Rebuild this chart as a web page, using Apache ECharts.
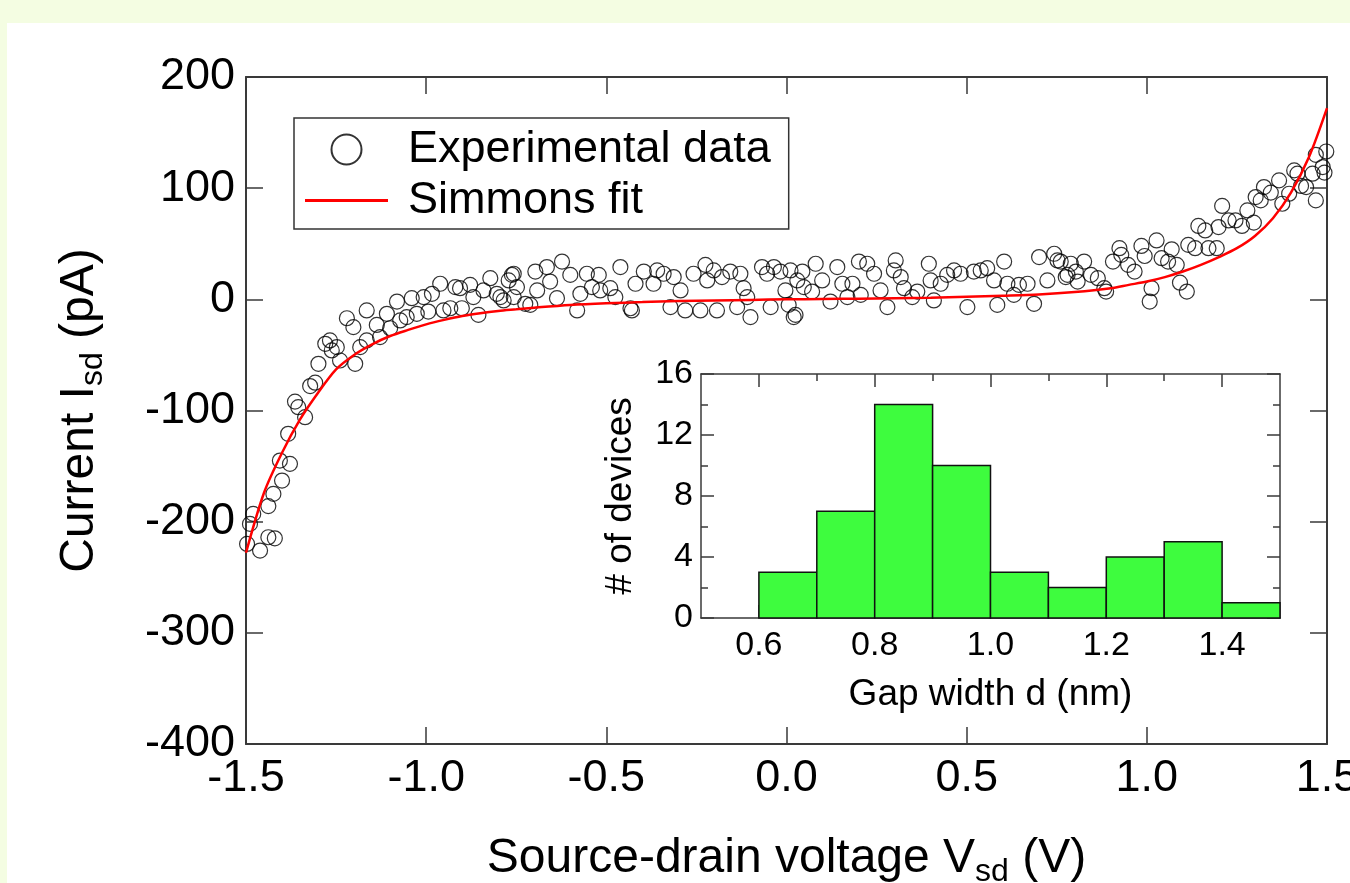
<!DOCTYPE html>
<html><head><meta charset="utf-8">
<script src="https://cdn.jsdelivr.net/npm/echarts@6/dist/echarts.min.js"></script>
<style>
html,body{margin:0;padding:0;background:#f4fde2;width:1350px;height:883px;overflow:hidden}
#c{position:absolute;left:7px;top:23px;width:1343px;height:860px;background:#fff}
</style></head><body><div id="c"></div>
<script>
// ---- data ----
const experimentalData = [
[-1.497,-220],[-1.461,-226],[-1.48,-193],[-1.489,-202],[-1.438,-214],[-1.42,-215],[-1.438,-186],[-1.424,-175],[-1.40,-163],[-1.406,-145],
[-1.378,-148],[-1.383,-121],[-1.336,-106],[-1.364,-92],[-1.355,-97],[-1.322,-78],[-1.308,-75],[-1.299,-58],[-1.28,-40],[-1.267,-37],
[-1.248,-43],[-1.262,-46],[-1.239,-55],[-1.22,-17],[-1.202,-25],[-1.197,-58],[-1.183,-43],[-1.165,-10],[-1.165,-37],[-1.137,-23],
[-1.128,-34],[-1.109,-13],[-1.10,-26],[-1.081,-2],[-1.072,-19],[-1.054,-16],[-1.04,1],[-1.026,-13],[-1.007,2],[-0.994,-11],
[-0.984,5],[-0.961,14],[-0.952,-10],[-0.933,-8],[-0.919,11],[-0.906,10],[-0.901,-8],[-0.878,13],[-0.869,2],[-0.855,-14],
[-0.841,8],[-0.822,19],[-0.804,5],[-0.785,-1],[-0.771,17],[-0.762,22],[-0.757,2],
[-0.794,2],[-0.757,23],[-0.748,11],[-0.725,-4],[-0.711,-5],[-0.697,25],[-0.692,8],[-0.665,29],[-0.656,16],[-0.623,34],
[-0.637,1],[-0.60,22],[-0.581,-10],[-0.572,5],[-0.554,23],[-0.54,11],[-0.521,22],[-0.517,8],[-0.489,10],[-0.475,2],
[-0.461,29],[-0.433,-8],[-0.429,-10],[-0.419,14],[-0.396,25],[-0.369,14],[-0.359,26],[-0.341,23],[-0.322,-7],[-0.313,20],
[-0.294,8],[-0.281,-10],[-0.258,23],[-0.239,-10],[-0.225,31],[-0.22,17],[-0.202,26],[-0.193,-10],[-0.179,20],[-0.156,25],
[-0.137,-7],[-0.128,23],[-0.119,10],[-0.109,2],[-0.10,-16],[-0.068,29],[-0.054,23],[-0.044,-7],[-0.035,29],[-0.017,25],
[-0.003,8],[0.011,26],[0.02,-16],[0.03,17],
[0.006,-5],[0.025,-14],[0.044,25],[0.048,11],[0.071,7],[0.081,32],[0.099,17],[0.122,-2],[0.141,29],[0.155,14],
[0.169,2],[0.183,14],[0.201,34],[0.206,4],[0.224,32],[0.243,23],[0.261,8],[0.28,-7],[0.303,35],[0.298,26],
[0.317,20],[0.326,10],[0.349,2],[0.363,7],[0.395,32],[0.40,17],[0.409,-1],[0.428,14],[0.446,22],[0.465,26],
[0.483,23],[0.502,-7],[0.52,25],[0.539,26],[0.557,28],[0.576,17],[0.585,-5],[0.604,34],[0.613,14],[0.631,4],
[0.645,13],[0.669,14],[0.687,-4],[0.701,38],[0.724,17],[0.743,41],[0.752,35],[0.775,20],[0.789,32],[0.803,25],
[0.761,34],[0.78,22],[0.808,16],[0.826,34],[0.845,22],[0.864,19],[0.882,10],[0.887,7],[0.906,34],[0.924,46],
[0.929,40],[0.948,31],[0.966,25],[0.985,48],[0.994,39],[1.008,-2],[1.013,10],[1.027,53],[1.041,37],[1.059,34],
[1.069,45],[1.083,31],[1.092,15],[1.111,7],[1.115,49],[1.134,46],[1.143,66],[1.162,62],[1.171,46],[1.194,46],
[1.199,65],[1.209,84],[1.227,71],[1.246,71],[1.264,66],[1.279,80],[1.297,69],[1.302,92],[1.316,89],[1.325,101],
[1.344,96],[1.367,107],[1.376,86],[1.395,95],[1.409,116],[1.418,113],[1.428,102],[1.442,101],[1.469,89],[1.46,113],
[1.469,130],[1.488,119],[1.493,114],[1.498,133]
];
const fitData = [
[-1.5,-228],[-1.45,-174],[-1.4,-138],[-1.35,-108],[-1.3,-84],[-1.25,-63],[-1.2,-50],[-1.15,-40.5],[-1.1,-33],[-1.05,-27.5],
[-1.0,-22.5],[-0.95,-18.5],[-0.9,-15],[-0.85,-12.5],[-0.8,-10.5],[-0.75,-9],[-0.7,-7.5],[-0.6,-5],[-0.5,-3.5],[-0.4,-2.5],
[-0.3,-1.5],[-0.2,-1],[-0.1,-0.5],[0,0],[0.1,0.3],[0.2,0.6],[0.3,1],[0.4,1.5],[0.5,2.3],[0.6,3.2],
[0.7,4.3],[0.8,6.5],[0.9,10],[0.95,13],[1.0,16],[1.05,20],[1.1,25],[1.15,31],[1.2,38],[1.25,46],
[1.3,57],[1.35,73],[1.4,96],[1.45,128],[1.5,172]
];
// histogram bins: [from, to, count]
const histBins = [[0.6,0.7,3],[0.7,0.8,7],[0.8,0.9,14],[0.9,1.0,10],[1.0,1.1,3],[1.1,1.2,2],[1.2,1.3,4],[1.3,1.4,5],[1.4,1.5,1]];
const insetXMajor = [0.6,0.8,1.0,1.2,1.4];
const insetXMinor = [0.7,0.9,1.1,1.3];
const seriesNames = ['Experimental data','Simmons fit'];

// ---- styling ----
const FONT = '"Liberation Sans", Arial, Helvetica, sans-serif';
const AX = '#3a3a3a';
const axisLine = {show:true, onZero:false, lineStyle:{color:AX, width:2}};
const tickMain = {show:true, inside:true, length:17, lineStyle:{color:AX, width:1.5}};
const noLabel = {show:false};
const mainLbl = {color:'#000', fontSize:45, fontFamily:FONT};
const insetLbl = {color:'#000', fontSize:34, fontFamily:FONT};
const titleRich = {
  m:{fontSize:48, lineHeight:58, color:'#000', fontFamily:FONT},
  s:{fontSize:32, lineHeight:14, verticalAlign:'bottom', color:'#000', fontFamily:FONT}
};
const fmt1 = v => Number(v).toFixed(1);

const chart = echarts.init(document.getElementById('c'), null, {renderer:'canvas'});
chart.setOption({
  animation:false,
  backgroundColor:'#fff',
  grid:[
    {left:239, top:54, width:1081, height:667, containLabel:false, outerBoundsMode:'none'},
    {left:694, top:351, width:579, height:244, containLabel:false, outerBoundsMode:'none',
     show:true, backgroundColor:'#fff', borderWidth:0}
  ],
  legend:{
    orient:'vertical', left:287, top:95,
    data:[
      {name:seriesNames[0]},
      {name:seriesNames[1], icon:'path://M0,0L83,0L83,3L0,3Z'}
    ],
    itemWidth:83, itemHeight:30, itemGap:6,
    padding:[9,18,6,11],
    borderColor:'#333', borderWidth:1.5, backgroundColor:'#fff',
    formatter:'{t|{name}}',
    textStyle:{color:'#000', fontSize:45, fontFamily:FONT,
      rich:{t:{fontSize:45, lineHeight:45, padding:[0,0,0,15], color:'#000', fontFamily:FONT}}}
  },
  xAxis:[
    {gridIndex:0, type:'value', position:'bottom', min:-1.5, max:1.5, interval:0.5,
     axisLine, axisTick:tickMain, splitLine:{show:false},
     axisLabel:{...mainLbl, margin:12, formatter:fmt1},
     name:'{m|Source-drain voltage V}{s|sd}{m| (V)}', nameLocation:'middle', nameGap:86,
     nameTextStyle:{rich:titleRich}},
    {gridIndex:0, type:'value', position:'top', min:-1.5, max:1.5, interval:0.5,
     axisLine, axisTick:tickMain, splitLine:{show:false}, axisLabel:noLabel},
    {gridIndex:1, type:'value', position:'bottom', min:0.5, max:1.5,
     axisLine:{show:true, onZero:false, lineStyle:{color:AX, width:1.5}},
     axisTick:{show:true, inside:true, length:13, customValues:insetXMajor, lineStyle:{color:AX, width:1.5}},
     axisLabel:{...insetLbl, margin:11, customValues:insetXMajor, formatter:fmt1},
     splitLine:{show:false},
     name:'Gap width d (nm)', nameLocation:'middle', nameGap:58,
     nameTextStyle:{color:'#000', fontSize:37, fontFamily:FONT}},
    {gridIndex:1, type:'value', position:'bottom', min:0.5, max:1.5,
     axisLine:{show:false, onZero:false},
     axisTick:{show:true, inside:true, length:7, customValues:insetXMinor, lineStyle:{color:AX, width:1.5}},
     axisLabel:noLabel, splitLine:{show:false}},
    {gridIndex:1, type:'value', position:'top', min:0.5, max:1.5,
     axisLine:{show:true, onZero:false, lineStyle:{color:AX, width:1.5}},
     axisTick:{show:true, inside:true, length:13, customValues:insetXMajor, lineStyle:{color:AX, width:1.5}},
     axisLabel:noLabel, splitLine:{show:false}},
    {gridIndex:1, type:'value', position:'top', min:0.5, max:1.5,
     axisLine:{show:false, onZero:false},
     axisTick:{show:true, inside:true, length:7, customValues:insetXMinor, lineStyle:{color:AX, width:1.5}},
     axisLabel:noLabel, splitLine:{show:false}}
  ],
  yAxis:[
    {gridIndex:0, type:'value', position:'left', min:-400, max:200, interval:100,
     axisLine, axisTick:tickMain, splitLine:{show:false},
     axisLabel:{...mainLbl, margin:11},
     name:'{m|Current I}{s|sd}{m| (pA)}', nameLocation:'middle', nameRotate:90, nameGap:137,
     nameTextStyle:{rich:titleRich}},
    {gridIndex:0, type:'value', position:'right', min:-400, max:200, interval:100,
     axisLine, axisTick:tickMain, splitLine:{show:false}, axisLabel:noLabel},
    {gridIndex:1, type:'value', position:'left', min:0, max:16, interval:4,
     axisLine:{show:true, onZero:false, lineStyle:{color:AX, width:1.5}},
     axisTick:{show:true, inside:true, length:13, lineStyle:{color:AX, width:1.5}},
     minorTick:{show:true, splitNumber:2, length:7, lineStyle:{color:AX, width:1.5}},
     axisLabel:{...insetLbl, margin:8}, splitLine:{show:false},
     name:'# of devices', nameLocation:'middle', nameRotate:90, nameGap:62,
     nameTextStyle:{color:'#000', fontSize:37, fontFamily:FONT}},
    {gridIndex:1, type:'value', position:'right', min:0, max:16, interval:4,
     axisLine:{show:true, onZero:false, lineStyle:{color:AX, width:1.5}},
     axisTick:{show:true, inside:true, length:13, lineStyle:{color:AX, width:1.5}},
     minorTick:{show:true, splitNumber:2, length:7, lineStyle:{color:AX, width:1.5}},
     axisLabel:noLabel, splitLine:{show:false}}
  ],
  series:[
    {name:seriesNames[0], type:'scatter', xAxisIndex:0, yAxisIndex:0, data:experimentalData,
     symbol:'circle', symbolSize:15, clip:false,
     itemStyle:{color:'rgba(255,255,255,0)', borderColor:'#000', borderWidth:1.2}},
    {name:seriesNames[1], type:'line', xAxisIndex:0, yAxisIndex:0, data:fitData,
     symbol:'none', smooth:0.3, lineStyle:{color:'#ff0000', width:2.5}, itemStyle:{color:'#ff0000'}, z:3},
    {name:'Gap histogram', type:'custom', xAxisIndex:2, yAxisIndex:2, data:histBins,
     encode:{x:[0,1], y:2},
     renderItem:function(params, api){
       const a = api.coord([api.value(0), api.value(2)]);
       const b = api.coord([api.value(1), 0]);
       return {type:'rect', shape:{x:a[0], y:a[1], width:b[0]-a[0], height:b[1]-a[1]},
               style:{fill:'#3efc3e', stroke:'#111', lineWidth:1.5}};
     }}
  ]
});
</script></body></html>
